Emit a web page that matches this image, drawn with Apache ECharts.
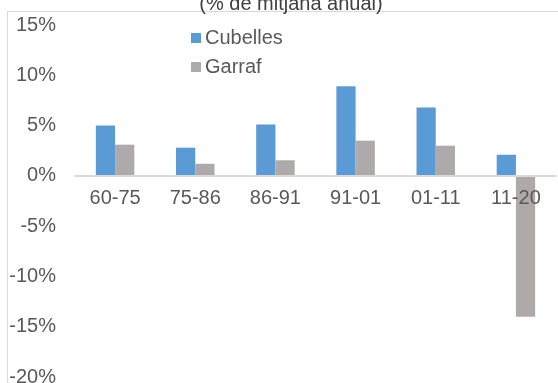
<!DOCTYPE html>
<html>
<head>
<meta charset="utf-8">
<script src="https://cdn.jsdelivr.net/npm/echarts@6/dist/echarts.min.js"></script>
<style>html,body{margin:0;padding:0;background:#fff;}#c{width:558px;height:383px;}</style>
</head>
<body>
<div id="c"></div>
<script>
const categories = ['60-75', '75-86', '86-91', '91-01', '01-11', '11-20'];
const cubelles = [5.0, 2.8, 5.1, 8.9, 6.8, 2.1];
const garraf = [3.1, 1.2, 1.55, 3.5, 3.0, -14.0];
const titleText = '(% de mitjana anual)';

const chart = echarts.init(document.getElementById('c'), null, {renderer: 'canvas'});
const font = 'Liberation Sans, Arial, sans-serif';
chart.setOption({
  animation: false,
  backgroundColor: '#fff',
  title: {
    text: titleText, left: 286, top: -11, textAlign: 'center',
    textStyle: {fontFamily: font, fontSize: 20, fontWeight: 'normal', color: '#404040'}
  },
  graphic: [{
    type: 'rect', z: -1, silent: true,
    shape: {x: 7.5, y: 11.5, width: 700, height: 500},
    style: {fill: 'none', stroke: '#d9d9d9', lineWidth: 1}
  }],
  legend: {
    orient: 'vertical', left: 186, top: 23, itemWidth: 10, itemHeight: 10, itemGap: 9,
    icon: 'rect',
    textStyle: {fontFamily: font, fontSize: 20, color: '#595959', padding: [0, 0, 0, -1]},
    data: ['Cubelles', 'Garraf']
  },
  grid: {left: 75, right: 2, top: 25, bottom: 6, containLabel: false, outerBoundsMode: 'none'},
  xAxis: {
    type: 'category', data: categories, z: 5, offset: -201,
    axisLine: {onZero: false, lineStyle: {color: '#d9d9d9', width: 2}},
    axisTick: {show: false},
    axisLabel: {fontFamily: font, fontSize: 20, color: '#595959', margin: 12}
  },
  yAxis: {
    type: 'value', min: -20, max: 15, interval: 5,
    splitLine: {show: false}, axisLine: {show: false}, axisTick: {show: false},
    axisLabel: {fontFamily: font, fontSize: 20, color: '#595959', margin: 19,
      formatter: v => v + '%'}
  },
  series: [
    {name: 'Cubelles', type: 'bar', data: cubelles, barGap: '0%', barCategoryGap: '52%',
     itemStyle: {color: '#5B9BD5'}},
    {name: 'Garraf', type: 'bar', data: garraf, barGap: '0%', barCategoryGap: '52%',
     itemStyle: {color: '#AEAAAA'}}
  ]
});
</script>
</body>
</html>
